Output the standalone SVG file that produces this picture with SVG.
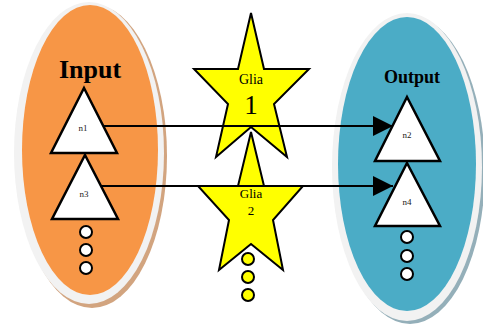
<svg xmlns="http://www.w3.org/2000/svg" width="483" height="325" viewBox="0 0 483 325">
<style>
.rim{fill:#f2f2f2}
.tri{fill:#ffffff;stroke:#000;stroke-width:2.5;stroke-linejoin:miter}
.dot{fill:#ffffff;stroke:#000;stroke-width:2}
.gdot{fill:#ffff00;stroke:#000;stroke-width:2}
.star{fill:#ffff00;stroke:#000;stroke-width:2}
.lbl{font-family:"Liberation Serif",serif;font-size:9px;text-anchor:middle;fill:#222}
.title{font-family:"Liberation Serif",serif;font-weight:bold;text-anchor:middle;fill:#000}
.glia{font-family:"Liberation Serif",serif;text-anchor:middle;fill:#000}
.conn{stroke:#000;stroke-width:2;fill:none}
</style>
<defs>
<marker id="arr" markerWidth="10" markerHeight="10" refX="10" refY="5" orient="auto" markerUnits="userSpaceOnUse" viewBox="0 0 10 10">
<path d="M0,0 L10,5 L0,10 Z" fill="#000"/>
</marker>
</defs>
<g id="input">
<ellipse cx="92" cy="156" rx="75" ry="152" fill="#d2a47f"/>
<ellipse class="rim" cx="89" cy="153" rx="75" ry="151"/>
<ellipse cx="90" cy="150" rx="68" ry="145" fill="#f79646"/>
<text class="title" x="90" y="78" font-size="26">Input</text>
</g>
<g id="output">
<ellipse cx="410" cy="170" rx="75" ry="154" fill="#94afb9"/>
<ellipse class="rim" cx="407" cy="167" rx="75" ry="154"/>
<ellipse cx="407" cy="164" rx="69" ry="147" fill="#4bacc6"/>
<text class="title" x="412" y="83" font-size="18">Output</text>
</g>
<g id="glia1">
<polygon class="star" points="251,13 264,69 309,69 274,104 287,157 251,127 216,157 228,104 194,69 238,69"/>
<text class="glia" x="251" y="84" font-size="14">Glia</text>
<text class="glia" x="251" y="114" font-size="27">1</text>
</g>
<g id="glia2">
<polygon class="star" points="251,132 264,186 303,186 273,220 283,270 251,244 219,270 229,220 198,186 238,186"/>
<text class="glia" x="251" y="198" font-size="13">Glia</text>
<text class="glia" x="251" y="215" font-size="13">2</text>
</g>
<g id="n1">
<polygon class="tri" points="84,88 117,153 51,153"/>
<text class="lbl" x="83" y="131">n1</text>
</g>
<g id="n3">
<polygon class="tri" points="85,155 118,219 52,219"/>
<text class="lbl" x="84" y="197">n3</text>
</g>
<g id="n2">
<polygon class="tri" points="407,97 440,161 375,161"/>
<text class="lbl" x="407" y="138">n2</text>
</g>
<g id="n4">
<polygon class="tri" points="407,163 440,226 375,226"/>
<text class="lbl" x="407" y="205">n4</text>
</g>
<g id="input-dots">
<circle class="dot" cx="86" cy="232" r="6"/>
<circle class="dot" cx="86" cy="250" r="6"/>
<circle class="dot" cx="86" cy="268" r="6"/>
</g>
<g id="output-dots">
<circle class="dot" cx="407" cy="237" r="6"/>
<circle class="dot" cx="407" cy="256" r="6"/>
<circle class="dot" cx="407" cy="274" r="6"/>
</g>
<g id="glia-dots">
<circle class="gdot" cx="248" cy="259" r="6"/>
<circle class="gdot" cx="248" cy="277" r="6"/>
<circle class="gdot" cx="248" cy="295" r="6"/>
</g>
<g id="connectors">
<line class="conn" x1="104" y1="126" x2="393" y2="126"/>
<path d="M373,116 L393,126 L373,136 Z" fill="#000"/>
<line class="conn" x1="101" y1="186" x2="393" y2="186"/>
<path d="M373,176 L393,186 L373,196 Z" fill="#000"/>
</g>
</svg>
